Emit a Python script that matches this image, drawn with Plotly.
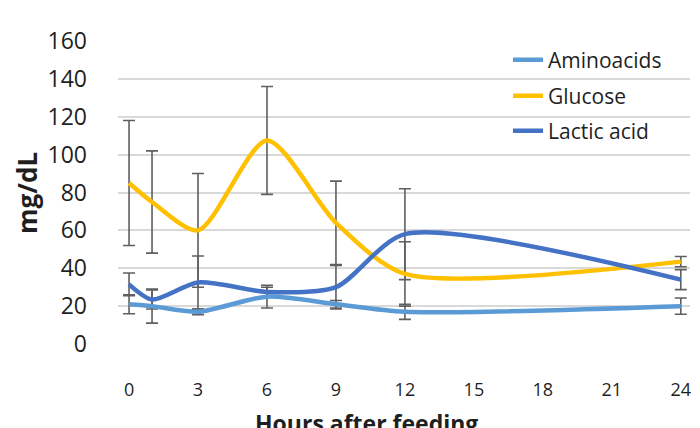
import plotly.graph_objects as go

hours = [0, 1, 3, 6, 9, 12, 24]
aminoacids = [21, 20, 17, 25, 21, 17, 20]
aminoacids_err = [5, 9, 1.5, 6, 2, 4, 4.3]
glucose = [85, 75, 60, 107.5, 64, 37, 43.5]
glucose_err = [33, 27, 30, 28.5, 22, 17, 2.7]
lactic = [31.5, 23.5, 32.5, 27.5, 30, 58, 34]
lactic_err = [6, 5, 14, 2.5, 11.5, 24, 5.3]

x_ticks = [0, 3, 6, 9, 12, 15, 18, 21, 24]
y_ticks = [0, 20, 40, 60, 80, 100, 120, 140, 160]

series = [
    ("Aminoacids", aminoacids, aminoacids_err, "#5B9BD5", "legend"),
    ("Glucose", glucose, glucose_err, "#FFC000", "legend2"),
    ("Lactic acid", lactic, lactic_err, "#4472C4", "legend3"),
]

FONT = "Open Sans"
TXT = "#1f1f1f"

fig = go.Figure()

# error bars first (drawn beneath the lines)
for name, vals, errs, color, lg in series:
    fig.add_trace(go.Scatter(
        x=hours, y=vals, mode="markers",
        marker=dict(size=1, color="rgba(0,0,0,0)"),
        error_y=dict(type="data", array=errs, visible=True,
                     color="#5f5f5f", thickness=1.6, width=6),
        showlegend=False, hoverinfo="skip",
    ))

for name, vals, errs, color, lg in series:
    fig.add_trace(go.Scatter(
        x=hours, y=vals, mode="lines", name=name,
        line=dict(color=color, width=4.5, shape="spline", smoothing=0.75),
        legend=lg,
    ))

L, R, T, B = 118, 10, 41, 84
W, H = 700, 428
pw = W - L - R
ph = H - T - B

def px_x(p):
    return (p - L) / pw

def px_y(p):
    return (H - B - p) / ph

legend_common = dict(
    xanchor="left", yanchor="middle", bgcolor="rgba(0,0,0,0)",
    font=dict(family=FONT, size=21, color=TXT), borderwidth=0,
)

fig.update_layout(
    width=W, height=H,
    margin=dict(l=L, r=R, t=T, b=B),
    paper_bgcolor="white", plot_bgcolor="white",
    font=dict(family=FONT, color=TXT),
    legend=dict(x=px_x(508), y=px_y(60), **legend_common),
    legend2=dict(x=px_x(508), y=px_y(96), **legend_common),
    legend3=dict(x=px_x(508), y=px_y(131), **legend_common),
    xaxis=dict(
        range=[-0.48, 24.4], tickvals=x_ticks, ticktext=[str(v) for v in x_ticks],
        showgrid=False, zeroline=False, showline=False, ticks="",
        tickfont=dict(family=FONT, size=18, color=TXT),
        ticklabelstandoff=33,
    ),
    yaxis=dict(
        range=[0, 160], tickvals=y_ticks,
        showgrid=True, gridcolor="#d9d9d9", gridwidth=1.5,
        zeroline=False, showline=False, ticks="",
        tickfont=dict(family=FONT, size=23, color=TXT),
        ticklabelstandoff=30,
    ),
    annotations=[
        dict(text="<b>mg/dL</b>", xref="paper", yref="paper",
             x=px_x(27), y=px_y(193), xanchor="center", yanchor="middle",
             textangle=-90, showarrow=False,
             font=dict(family=FONT, size=26, color=TXT)),
        dict(text="<b>Hours after feeding</b>", xref="paper", yref="paper",
             x=px_x(366), y=px_y(405), xanchor="center", yanchor="top",
             showarrow=False,
             font=dict(family=FONT, size=23, color=TXT)),
    ],
)

fig.write_html(
    "out.html",
    config={"displayModeBar": False},
    post_script="document.body.style.margin='0';document.body.style.overflow='hidden';",
)
